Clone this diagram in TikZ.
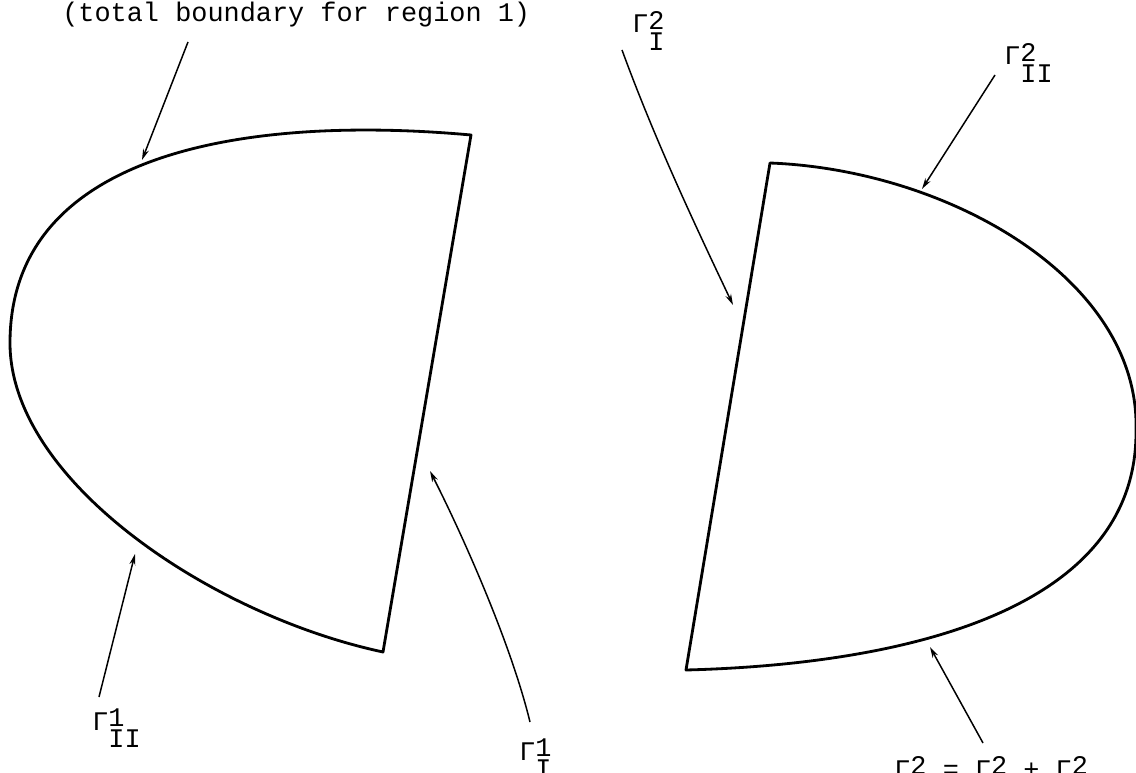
\documentclass[tikz,border=0pt]{standalone}
\usepackage{fontspec}
\setmonofont{Liberation Mono}
\usetikzlibrary{arrows.meta}
\newcommand{\gam}[2]{Γ\makebox[0pt][l]{\raisebox{0.12em}{#1}}\raisebox{-0.66em}{#2}}
\begin{document}
\begin{tikzpicture}[x=0.02cm, y=-0.02cm,
  rim/.style={line width=1.6pt, line join=round},
  pointer/.style={line width=0.85pt, -{Stealth[length=2.2mm, width=1.2mm]}},
  tag/.style={font=\ttfamily\fontsize{15.3}{18}\selectfont, inner sep=0pt, anchor=base west}]
\useasboundingbox (0,0) rectangle (1136,773);
\draw[rim] (471,135) .. controls (250,115) and (10,150) .. (10,343)
  .. controls (10,480) and (210,615) .. (383,652) -- cycle;
\draw[rim] (770,163) .. controls (950,170) and (1140,280) .. (1136,430)
  .. controls (1138,620) and (880,665) .. (686,670) -- cycle;
\node[tag] (totalcap) at (62,22) {(total boundary for region 1)};
\node[tag] (gamIIone) at (92,730) {\gam{1}{II}};
\node[tag] (gamIone) at (519,760) {\gam{1}{I}};
\node[tag] (gamItwo) at (632,33) {\gam{2}{I}};
\node[tag] (gamIItwo) at (1004,65) {\gam{2}{II}};
\node[tag] (gamsum) at (894,778) {\gam{2}{\phantom{I}} = \gam{2}{I} + \gam{2}{II}};
\coordinate (capTail) at (188,42);
\coordinate (capTip) at (142,160);
\coordinate (IIoneTail) at (99,697);
\coordinate (IIoneTip) at (135,554);
\coordinate (IoneTail) at (530,722);
\coordinate (IoneTip) at (430,471);
\coordinate (ItwoTail) at (622,50);
\coordinate (ItwoTip) at (733,305);
\coordinate (IItwoTail) at (995,75);
\coordinate (IItwoTip) at (922,189);
\coordinate (sumTail) at (983,743);
\coordinate (sumTip) at (930,647);
\draw[pointer] (capTail) -- (capTip);
\draw[pointer] (IIoneTail) -- (IIoneTip);
\draw[pointer] (IoneTail) .. controls (510,640) and (460,530) .. (IoneTip);
\draw[pointer] (ItwoTail) .. controls (655,140) and (695,225) .. (ItwoTip);
\draw[pointer] (IItwoTail) -- (IItwoTip);
\draw[pointer] (sumTail) -- (sumTip);
\end{tikzpicture}
\end{document}
